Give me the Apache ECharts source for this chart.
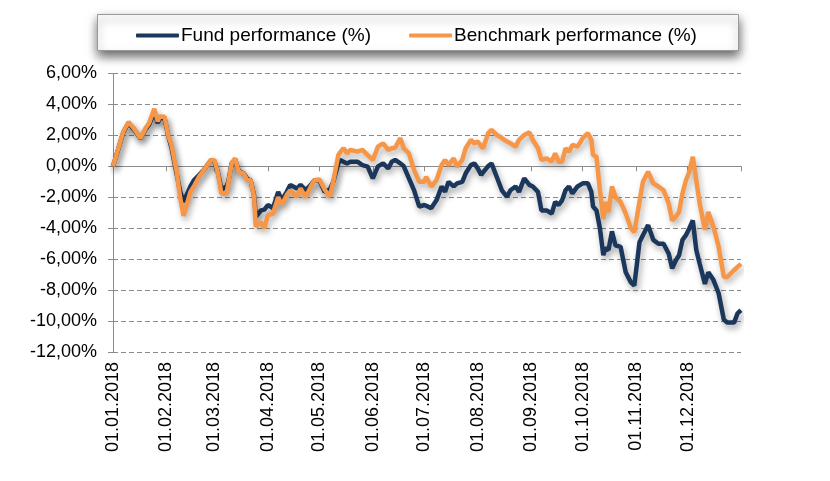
<!DOCTYPE html>
<html><head><meta charset="utf-8">
<script src="https://cdn.jsdelivr.net/npm/echarts@6/dist/echarts.min.js"></script>
<style>html,body{margin:0;padding:0;background:#fff}#c{width:830px;height:481px}</style>
</head><body><div id="c"></div>
<script>
// day offsets from 01.01.2018
const days = [0,1,6,9,12,16,19,21,24,26,27,30,32,34,37,39,41,45,47,50,53,57,59,61,63,66,67,69,71,73,76,78,80,82,83,86,88,90,93,96,98,101,103,107,109,112,115,117,120,123,126,128,131,132,134,136,138,142,145,148,151,154,157,160,162,164,167,169,172,175,178,181,182,185,188,191,193,195,198,200,203,205,208,210,212,214,215,217,218,220,223,226,229,231,234,236,239,242,244,247,249,252,255,257,259,261,263,265,267,270,273,276,278,279,281,283,285,286,288,290,292,295,298,301,303,306,308,311,314,317,320,323,325,327,329,331,333,335,337,339,341,344,346,349,352,355,357,361,363,365];
const fund = [0,0,2.2,2.8,2.4,1.8,2.4,2.7,3.5,2.8,3.1,3.1,2.0,1.2,-0.5,-1.6,-2.3,-1.3,-0.9,-0.56,-0.2,0.41,0.3,-0.4,-1.5,-1.3,-1.0,0.2,0.45,-0.3,-0.45,-0.8,-0.9,-1.9,-3.27,-2.85,-2.8,-2.5,-2.7,-1.65,-2.2,-1.65,-1.2,-1.43,-1.2,-1.55,-1.2,-0.9,-0.9,-1.65,-1.5,-1.0,0.2,0.4,0.3,0.19,0.3,0.3,0.08,-0.02,-0.78,0.0,0.19,-0.13,0.3,0.41,0.19,0.0,-0.78,-1.55,-2.6,-2.5,-2.4,-2.7,-2.2,-1.3,-1.65,-1.0,-1.3,-1.1,-1.0,-0.45,0.08,0.19,-0.13,-0.56,-0.4,-0.13,0.0,0.19,-0.67,-1.55,-1.97,-1.55,-1.3,-1.65,-0.78,-1.2,-1.3,-1.65,-2.85,-2.85,-3.05,-2.3,-2.5,-2.2,-1.55,-1.3,-1.75,-1.3,-1.1,-1.1,-1.65,-2.6,-2.85,-4.0,-5.75,-5.3,-5.4,-4.2,-5.1,-5.2,-6.85,-7.5,-7.7,-4.9,-4.45,-3.8,-4.75,-5.0,-5.0,-5.65,-6.6,-6.1,-5.75,-4.75,-4.45,-4.0,-3.5,-5.4,-6.3,-7.6,-6.85,-7.35,-8.2,-9.9,-10.1,-10.1,-9.5,-9.3];
const bench = [0,0,2.25,2.86,2.47,1.82,2.47,2.8,3.72,2.9,3.2,3.2,2.03,1.38,-0.35,-2.0,-3.2,-1.65,-1.3,-0.67,-0.2,0.41,0.4,-0.45,-1.75,-1.75,-1.1,0.2,0.52,-0.35,-0.45,-0.9,-0.9,-1.97,-3.9,-3.6,-4.0,-3.15,-3.05,-2.0,-2.5,-1.85,-1.55,-1.97,-1.43,-2.0,-1.3,-0.9,-0.85,-1.5,-1.97,-1.0,0.73,0.9,1.17,0.84,1.06,0.95,1.06,0.73,0.41,1.27,1.49,1.06,1.17,1.2,1.82,1.17,0.84,-0.24,-1.0,-1.0,-0.67,-1.3,-0.9,0.08,0.41,0.08,0.52,-0.02,0.41,1.17,1.71,1.49,1.6,1.3,1.17,1.8,2.14,2.36,2.03,1.82,1.6,1.49,1.27,1.71,2.03,2.2,1.7,1.17,0.41,0.52,0.3,0.84,0.3,0.3,1.17,0.95,1.38,1.27,1.82,2.14,1.71,0.73,0.62,-1.55,-3.4,-2.3,-2.95,-1.3,-1.97,-2.3,-3.05,-4.0,-4.25,-2.3,-1.0,-0.35,-1.1,-1.3,-1.55,-2.4,-3.5,-3.27,-2.95,-1.75,-0.9,-0.35,0.62,-0.9,-2.4,-4.1,-2.95,-3.9,-5.2,-7.15,-7.15,-6.7,-6.5,-6.3];
const monthStarts = [0,31,59,90,120,151,181,212,243,273,304,334];
const seriesNames = ['Fund performance (%)','Benchmark performance (%)'];
const yTicks = [6,4,2,0,-2,-4,-6,-8,-10,-12];

function dayLabel(d){
  const dt = new Date(Date.UTC(2018,0,1+Math.round(d)));
  const p = n => (n<10?'0':'')+n;
  return p(dt.getUTCDate())+'.'+p(dt.getUTCMonth()+1)+'.'+dt.getUTCFullYear();
}
const chart = echarts.init(document.getElementById('c'), null, {renderer:'canvas'});
const axisGrey = '#8c8c8c';
chart.setOption({
  animation:false,
  backgroundColor:'#fff',
  graphic:[{type:'rect', left:97, top:14, shape:{width:641, height:36},
    style:{fill:'#fff', stroke:'#9a9a9a', lineWidth:1, shadowBlur:10, shadowColor:'rgba(0,0,0,0.6)', shadowOffsetX:0, shadowOffsetY:5}, z:0}],
  legend:{left:131, top:21, itemWidth:43, itemHeight:4, itemGap:38, icon:'roundRect',
    textStyle:{fontFamily:'Liberation Sans', fontSize:19, color:'#000', padding:[0,0,0,-3]},
    data:seriesNames, z:5},
  grid:{left:113, right:89, top:73.5, bottom:129},
  xAxis:{type:'value', min:0, max:365,
    axisLine:{lineStyle:{color:axisGrey}},
    axisTick:{show:true, inside:false, length:5, customValues:monthStarts.concat([365]), lineStyle:{color:axisGrey}},
    axisLabel:{rotate:90, margin:10, customValues:monthStarts, formatter:v=>dayLabel(v),
      fontFamily:'Liberation Sans', fontSize:18, color:'#000'},
    splitLine:{show:false}},
  yAxis:{type:'value', min:-12, max:6, interval:2,
    axisLine:{show:true, lineStyle:{color:axisGrey}},
    axisTick:{show:true, length:5, lineStyle:{color:axisGrey}},
    axisLabel:{margin:16, fontFamily:'Liberation Sans', fontSize:18, color:'#000',
      formatter:v=>v.toFixed(2).replace('.',',')+'%'},
    splitLine:{show:true, lineStyle:{color:'#8a8a8a', type:[5,3], width:1}}},
  series:[
    {name:seriesNames[0], type:'line', showSymbol:false, symbol:'none',
     data:days.map((d,i)=>[d,fund[i]]),
     lineStyle:{color:'#1c375c', width:4.5, shadowColor:'rgba(0,0,0,0.35)', shadowBlur:6, shadowOffsetX:2, shadowOffsetY:4},
     itemStyle:{color:'#1c375c'}, z:2},
    {name:seriesNames[1], type:'line', showSymbol:false, symbol:'none',
     data:days.map((d,i)=>[d,bench[i]]),
     lineStyle:{color:'#f79646', width:4.5, shadowColor:'rgba(0,0,0,0.3)', shadowBlur:6, shadowOffsetX:2, shadowOffsetY:4},
     itemStyle:{color:'#f79646'}, z:3}
  ]
});
</script></body></html>
